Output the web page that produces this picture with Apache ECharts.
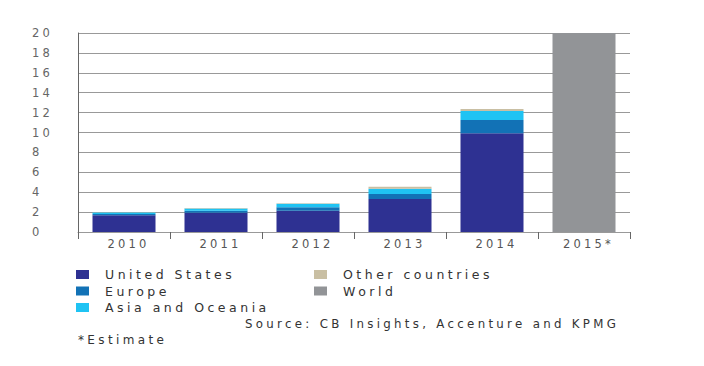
<!DOCTYPE html>
<html><head><meta charset="utf-8">
<script src="https://cdn.jsdelivr.net/npm/echarts@6/dist/echarts.min.js"></script>
<style>html,body{margin:0;padding:0;background:#fff}#c{width:704px;height:366px}
#c text{letter-spacing:0.28em}</style>
</head><body><div id="c"></div>
<script>
var categories = ['2010','2011','2012','2013','2014','2015*'];
var unitedStates = [1.68, 1.94, 2.14, 3.32, 9.92, '-'];
var europe = [0.12, 0.2, 0.34, 0.5, 1.34, '-'];
var asiaOceania = [0.15, 0.22, 0.35, 0.53, 0.9, '-'];
var otherCountries = [0.03, 0.05, 0.05, 0.2, 0.2, '-'];
var world = ['-', '-', '-', '-', '-', 20];
var yTicks = [0, 20, 2];

var font = 'DejaVu Sans';
function bar(name, data, color) {
  return {name: name, type: 'bar', stack: 'a', data: data, barWidth: 63,
    itemStyle: {color: color}, emphasis: {disabled: true}};
}
var legendBase = {orient: 'vertical', top: 268, padding: 0,
  itemWidth: 13, itemHeight: 9, itemGap: 3.5, icon: 'rect',
  textStyle: {color: '#333', fontSize: 12.5, fontFamily: font, padding: [0,0,0,11]}};
var chart = echarts.init(document.getElementById('c'), null, {renderer: 'svg'});
chart.setOption({
  animation: false,
  textStyle: {fontFamily: font},
  grid: {left: 78, right: 74, top: 33, bottom: 134},
  xAxis: {type: 'category', data: categories,
    axisLine: {lineStyle: {color: '#999', width: 1}},
    axisTick: {show: true, length: 7, lineStyle: {color: '#666'}},
    axisLabel: {color: '#555', fontSize: 11.5, margin: 6, fontFamily: font, padding: [0,0,0,9]}},
  yAxis: {type: 'value', min: yTicks[0], max: yTicks[1], interval: yTicks[2],
    axisLine: {show: true, lineStyle: {color: '#666'}},
    axisTick: {show: false},
    splitLine: {lineStyle: {color: '#999'}},
    axisLabel: {color: '#666', fontSize: 11.5, margin: 46, align: 'left', fontFamily: font}},
  legend: [
    Object.assign({}, legendBase, {data: ['United States', 'Europe', 'Asia and Oceania'], left: 76}),
    Object.assign({}, legendBase, {data: ['Other countries', 'World'], left: 314})
  ],
  title: [
    {text: 'Source: CB Insights, Accenture and KPMG', left: 245, top: 318, padding: 0,
     textStyle: {color: '#333', fontSize: 11.8, fontWeight: 'normal', fontFamily: font}},
    {text: '*Estimate', left: 78, top: 334, padding: 0,
     textStyle: {color: '#333', fontSize: 12, fontWeight: 'normal', fontFamily: font}}
  ],
  series: [
    bar('United States', unitedStates, '#2e3192'),
    bar('Europe', europe, '#1272b6'),
    bar('Asia and Oceania', asiaOceania, '#1fc3f3'),
    bar('Other countries', otherCountries, '#c9bfa3'),
    bar('World', world, '#929497')
  ]
});
</script></body></html>
